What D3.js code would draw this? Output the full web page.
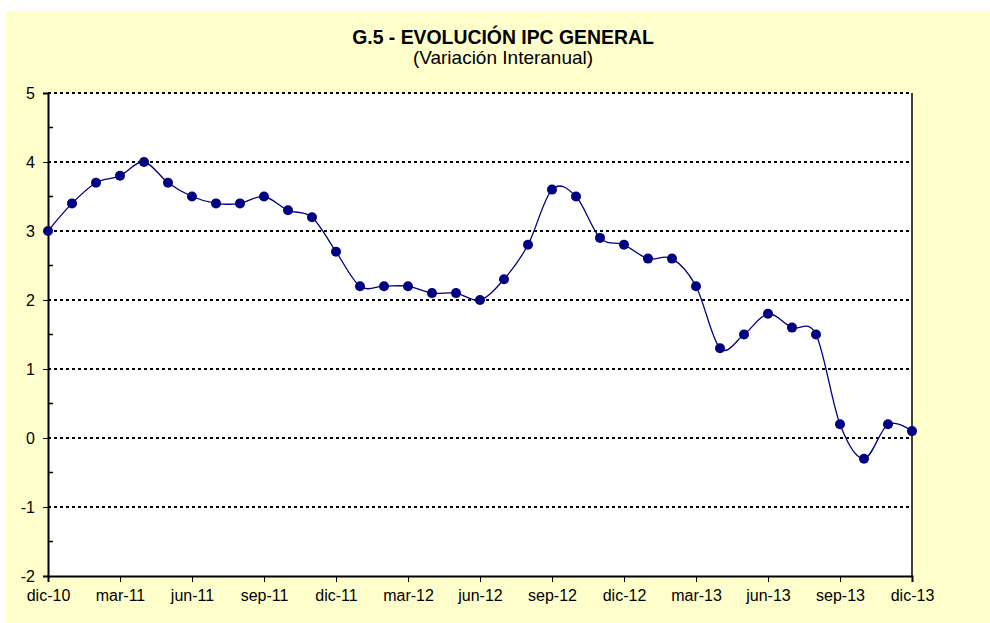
<!DOCTYPE html>
<html>
<head>
<meta charset="utf-8">
<script src="https://cdn.jsdelivr.net/npm/d3@7"></script>
<style>
  body { margin: 0; background: #ffffff; }
  text { font-family: "Liberation Sans", Arial, sans-serif; }
</style>
</head>
<body>
<div id="chart"></div>
<script>
// Datos: IPC general, variacion interanual (dic-10 a dic-13)
var months = ["dic-10","ene-11","feb-11","mar-11","abr-11","may-11","jun-11","jul-11","ago-11","sep-11","oct-11","nov-11",
              "dic-11","ene-12","feb-12","mar-12","abr-12","may-12","jun-12","jul-12","ago-12","sep-12","oct-12","nov-12",
              "dic-12","ene-13","feb-13","mar-13","abr-13","may-13","jun-13","jul-13","ago-13","sep-13","oct-13","nov-13",
              "dic-13"];
var ipc = [3.0,3.4,3.7,3.8,4.0,3.7,3.5,3.4,3.4,3.5,3.3,3.2,
           2.7,2.2,2.2,2.2,2.1,2.1,2.0,2.3,2.8,3.6,3.5,2.9,
           2.8,2.6,2.6,2.2,1.3,1.5,1.8,1.6,1.5,0.2,-0.3,0.2,
           0.1];
var xTickLabels = ["dic-10","mar-11","jun-11","sep-11","dic-11","mar-12","jun-12","sep-12","dic-12","mar-13","jun-13","sep-13","dic-13"];
var yTicks = [-2,-1,0,1,2,3,4,5];
var title = "G.5 - EVOLUCIÓN IPC GENERAL";
var subtitle = "(Variación Interanual)";

var w = 990, h = 623;
var margin = {top: 93, right: 78, bottom: 47, left: 48};
var width = w - margin.left - margin.right;
var height = h - margin.top - margin.bottom;

var data = months.map(function(m, i) { return {month: m, value: ipc[i]}; });

var svg = d3.select("#chart")
  .append("svg")
  .attr("width", w)
  .attr("height", h);

// Fondo amarillo
svg.append("rect")
  .attr("x", 6).attr("y", 11)
  .attr("width", w - 6).attr("height", h - 11)
  .attr("fill", "#ffffcc");

var g = svg.append("g")
  .attr("transform", "translate(" + margin.left + "," + margin.top + ")");

// Area del grafico
g.append("rect")
  .attr("width", width).attr("height", height)
  .attr("fill", "#ffffff");

// Escalas
var x = d3.scalePoint()
  .domain(months)
  .range([0, width]);

var y = d3.scaleLinear()
  .domain([-2, 5])
  .range([height, 0]);

// Lineas de grilla punteadas
g.selectAll(".grid")
  .data(yTicks.filter(function(d) { return d > -2; }))
  .enter()
  .append("line")
  .attr("x1", 0).attr("x2", width)
  .attr("y1", function(d) { return y(d); })
  .attr("y2", function(d) { return y(d); })
  .attr("stroke", "#000")
  .attr("stroke-width", 2)
  .attr("stroke-dasharray", "3,3");

// Borde derecho
g.append("line")
  .attr("x1", width).attr("x2", width)
  .attr("y1", 0).attr("y2", height)
  .attr("stroke", "#000").attr("stroke-width", 1.5);

// Eje y
var yAxis = d3.axisLeft(y).tickValues(yTicks).tickSize(5).tickPadding(8)
  .tickFormat(function(d) { return String(d); });
var gy = g.append("g").call(yAxis);
gy.select(".domain").attr("stroke-width", 2);
gy.selectAll("text").attr("font-size", "16px").attr("fill", "#000");

// Marcas menores del eje y (hacia adentro)
g.selectAll(".minor")
  .data(d3.range(-1.5, 5, 1))
  .enter()
  .append("line")
  .attr("x1", 0).attr("x2", 5)
  .attr("y1", function(d) { return y(d); })
  .attr("y2", function(d) { return y(d); })
  .attr("stroke", "#000").attr("stroke-width", 1.5);

// Eje x
var xAxis = d3.axisBottom(x).tickValues(xTickLabels).tickSize(6).tickPadding(8);
var gx = g.append("g")
  .attr("transform", "translate(0," + height + ")")
  .call(xAxis);
gx.select(".domain").attr("stroke-width", 2);
gx.selectAll("text").attr("font-size", "16px").attr("fill", "#000");

// Linea suavizada
var line = d3.line()
  .x(function(d) { return x(d.month); })
  .y(function(d) { return y(d.value); })
  .curve(d3.curveCardinal.tension(0));

g.append("path")
  .datum(data)
  .attr("d", line)
  .attr("fill", "none")
  .attr("stroke", "#000080")
  .attr("stroke-width", 1.3);

// Puntos
g.selectAll(".dot")
  .data(data)
  .enter()
  .append("circle")
  .attr("cx", function(d) { return x(d.month); })
  .attr("cy", function(d) { return y(d.value); })
  .attr("r", 5)
  .attr("fill", "#000080");

// Titulo
svg.append("text")
  .attr("x", 503).attr("y", 44)
  .attr("text-anchor", "middle")
  .attr("font-size", "19.4px")
  .attr("font-weight", "bold")
  .text(title);

svg.append("text")
  .attr("x", 503).attr("y", 64)
  .attr("text-anchor", "middle")
  .attr("font-size", "19px")
  .text(subtitle);
</script>
</body>
</html>
